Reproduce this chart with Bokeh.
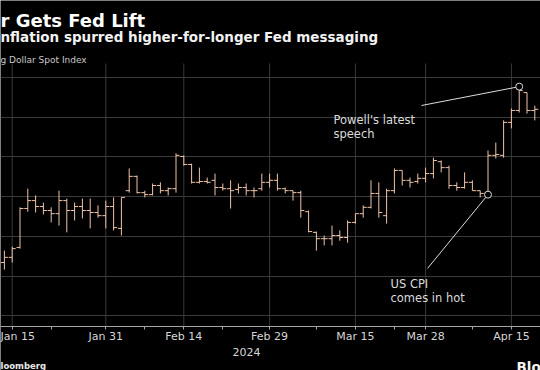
import pandas as pd
from bokeh.plotting import figure
from bokeh.models import Range1d, FixedTicker, Grid, Label, ColumnDataSource, LinearAxis
from bokeh.transform import dodge
from bokeh.embed import file_html
from bokeh.resources import INLINE

# ---------------- data ----------------
trading_days = [d.strftime("%Y-%m-%d") for d in pd.bdate_range("2024-01-12", "2024-04-18")
                if d.strftime("%Y-%m-%d") != "2024-03-29"]

opens = [1223.4, 1224.7, 1227.2, 1237.0, 1239.0, 1237.5, 1236.5, 1235.7, 1239.0, 1236.5,
         1237.5, 1236.5, 1236.0, 1235.2, 1237.5, 1232.0, 1241.5, 1245.1, 1241.0, 1240.5,
         1242.8, 1241.5, 1242.0, 1250.1, 1248.1, 1243.6, 1243.8, 1244.1, 1242.3, 1242.0,
         1241.8, 1242.3, 1241.5, 1242.0, 1243.6, 1244.1, 1242.0, 1241.5, 1241.0, 1236.2,
         1231.0, 1229.4, 1229.4, 1230.2, 1229.7, 1233.5, 1235.7, 1237.3, 1240.8, 1235.2,
         1241.5, 1246.6, 1244.1, 1243.8, 1244.6, 1245.8, 1248.8, 1247.3, 1242.8, 1242.3,
         1243.6, 1241.5, 1240.8, 1250.4, 1250.4, 1258.7, 1261.7, 1266.2, 1261.7]
highs = [1226.4, 1227.4, 1237.3, 1242.0, 1240.3, 1238.5, 1237.3, 1241.5, 1239.5, 1238.5,
         1239.5, 1239.5, 1237.8, 1239.0, 1239.8, 1239.8, 1247.1, 1245.3, 1241.5, 1243.3,
         1243.6, 1242.3, 1250.9, 1250.4, 1248.3, 1247.3, 1244.8, 1245.8, 1243.3, 1244.1,
         1243.3, 1243.3, 1242.3, 1245.8, 1245.8, 1245.8, 1242.3, 1241.5, 1241.5, 1236.5,
         1231.2, 1230.2, 1232.7, 1231.5, 1234.0, 1235.7, 1237.8, 1244.1, 1243.6, 1242.0,
         1247.1, 1246.6, 1244.8, 1245.8, 1247.3, 1249.8, 1249.1, 1247.8, 1243.6, 1246.1,
         1244.1, 1241.5, 1251.6, 1253.6, 1259.2, 1262.2, 1267.7, 1266.2, 1262.9]
lows = [1221.6, 1223.4, 1226.9, 1236.2, 1236.0, 1235.5, 1233.5, 1232.7, 1231.0, 1234.0,
        1234.5, 1232.0, 1234.7, 1232.0, 1231.5, 1230.2, 1241.0, 1240.8, 1239.8, 1240.3,
        1240.8, 1240.3, 1241.0, 1247.8, 1243.3, 1243.3, 1243.3, 1240.3, 1241.5, 1237.0,
        1240.8, 1240.3, 1239.8, 1241.5, 1242.3, 1241.5, 1240.8, 1239.0, 1234.7, 1231.0,
        1226.4, 1227.7, 1227.7, 1228.9, 1228.4, 1233.2, 1234.7, 1237.0, 1234.7, 1233.2,
        1240.8, 1242.8, 1242.3, 1243.3, 1243.6, 1244.6, 1246.1, 1242.0, 1241.5, 1242.0,
        1241.5, 1239.8, 1240.5, 1249.6, 1249.8, 1257.2, 1261.2, 1260.9, 1259.2]
closes = [1224.7, 1226.9, 1237.0, 1239.0, 1237.5, 1236.5, 1235.7, 1239.0, 1236.5, 1237.5,
          1236.5, 1236.0, 1235.2, 1237.5, 1232.2, 1239.8, 1245.1, 1241.0, 1240.5, 1242.8,
          1241.5, 1242.0, 1250.4, 1248.1, 1243.6, 1243.8, 1243.6, 1242.3, 1242.0, 1241.5,
          1242.3, 1241.5, 1241.5, 1243.6, 1244.1, 1242.0, 1241.5, 1241.0, 1236.5, 1231.2,
          1229.4, 1229.4, 1230.2, 1229.7, 1233.5, 1235.7, 1237.3, 1240.8, 1236.0, 1241.5,
          1246.6, 1244.1, 1243.6, 1244.6, 1245.8, 1249.1, 1247.3, 1242.8, 1242.3, 1243.6,
          1241.5, 1240.8, 1250.4, 1250.6, 1258.7, 1261.7, 1266.7, 1261.7, 1262.0]

major_dates = ["2024-01-15", "2024-01-31", "2024-02-14", "2024-02-29",
               "2024-03-15", "2024-03-28", "2024-04-15"]
major_labels = ["Jan 15", "Jan 31", "Feb 14", "Feb 29", "Mar 15", "Mar 28", "Apr 15"]
minor_dates = ["2024-01-22", "2024-02-07", "2024-02-21", "2024-03-08", "2024-03-22", "2024-04-08"]
grid_levels = [1210, 1220, 1230, 1240, 1250, 1260, 1270]

cpi_date = "2024-04-10"
powell_date = "2024-04-16"

# ---------------- layout constants ----------------
W, H = 540, 370
Y_LO, Y_HI = 1196.2, 1289.4          # canvas bottom / top
AXIS_AT = 1207.28                    # where the date axis sits
PLOT_TOP = 1273.53                   # top of the chart body

BG = "#000000"
BAR = "#efc3a8"
GRID = "#3a3a3a"
AXIS = "#a6a6a6"
TXT = "#d6d6d6"
ANN = "#dcdcdc"

x = list(range(len(trading_days)))
src = ColumnDataSource(dict(x=x, o=opens, h=highs, l=lows, c=closes))

p = figure(width=W, height=H, output_backend="svg", toolbar_location=None,
           x_range=Range1d(-0.5, 68.73), y_range=Range1d(Y_LO, Y_HI),
           x_axis_location=None, y_axis_location=None,
           min_border=0)
# drop the default grids that figure() creates
p.center = [r for r in p.center if not isinstance(r, Grid)]
p.background_fill_color = BG
p.border_fill_color = BG
p.outline_line_color = None

idx = {d: i for i, d in enumerate(trading_days)}
major_pos = [idx[d] for d in major_dates]
major_ticker = FixedTicker(ticks=major_pos, minor_ticks=[idx[d] for d in minor_dates])

# grids: vertical lines only over the chart body
p.segment(x0=major_pos, y0=AXIS_AT, x1=major_pos, y1=PLOT_TOP,
          line_color=GRID, line_width=1, level="underlay")
p.add_layout(Grid(dimension=1, ticker=FixedTicker(ticks=grid_levels), grid_line_color=GRID))

# date axis fixed at the bottom of the chart body
xaxis = LinearAxis(fixed_location=AXIS_AT, ticker=major_ticker)
xaxis.major_label_overrides = {idx[d]: lab for d, lab in zip(major_dates, major_labels)}
xaxis.axis_line_color = AXIS
xaxis.major_tick_line_color = AXIS
xaxis.minor_tick_line_color = AXIS
xaxis.major_tick_in = 0
xaxis.major_tick_out = 3
xaxis.minor_tick_in = 0
xaxis.minor_tick_out = 3
xaxis.major_label_standoff = 0
xaxis.major_label_text_color = TXT
xaxis.major_label_text_font = "DejaVu Sans"
xaxis.major_label_text_font_size = "11px"
p.add_layout(xaxis, "below")

# OHLC bars
p.segment(x0="x", y0="l", x1="x", y1="h", source=src, line_color=BAR, line_width=1)
p.segment(x0=dodge("x", -0.45), y0="o", x1="x", y1="o", source=src, line_color=BAR, line_width=1)
p.segment(x0="x", y0="c", x1=dodge("x", 0.45), y1="c", source=src, line_color=BAR, line_width=1)

# annotations
pi = idx[powell_date]
ci = idx[cpi_date]
p.segment(x0=[53.47], y0=[1262.95], x1=[pi], y1=[highs[pi]], line_color=ANN, line_width=1)
p.segment(x0=[54.24], y0=[1221.9], x1=[ci], y1=[lows[ci]], line_color=ANN, line_width=1)
p.scatter(x=[pi, ci], y=[highs[pi], lows[ci]], marker="circle", size=7,
          fill_color=BG, line_color=ANN, line_width=1)


def data_label(xv, yv, text, size="11.5px"):
    p.add_layout(Label(x=xv, y=yv, text=text, text_color=ANN, text_font="DejaVu Sans",
                       text_font_size=size, text_baseline="alphabetic", text_align="left"))


data_label(42.19, 1259.3, "Powell's latest")
data_label(42.19, 1255.7, "speech")
data_label(49.5, 1218.0, "US CPI")
data_label(49.5, 1214.5, "comes in hot")


def screen_label(sx, baseline_from_top, text, size, color, bold=False):
    p.add_layout(Label(x=sx, y=H - baseline_from_top, x_units="screen", y_units="screen",
                       text=text, text_color=color, text_font="DejaVu Sans",
                       text_font_size=size, text_font_style="bold" if bold else "normal",
                       text_baseline="alphabetic", text_align="left"))


screen_label(0, 19.5, "r Gets Fed Lift", "18px", "#ffffff", bold=True)
screen_label(0, 36, "nflation spurred higher-for-longer Fed messaging", "13.5px", "#f2f2f2", bold=True)
screen_label(0, 59, "g Dollar Spot Index", "9px", "#c8c8c8")
screen_label(232, 351.5, "2024", "11px", TXT)
screen_label(0, 365, "loomberg", "8.5px", "#e8e8e8", bold=True)
screen_label(516, 366, "Bloomberg", "13.5px", "#f4f4f4", bold=True)

open("out.html", "w").write(file_html(p, INLINE))
